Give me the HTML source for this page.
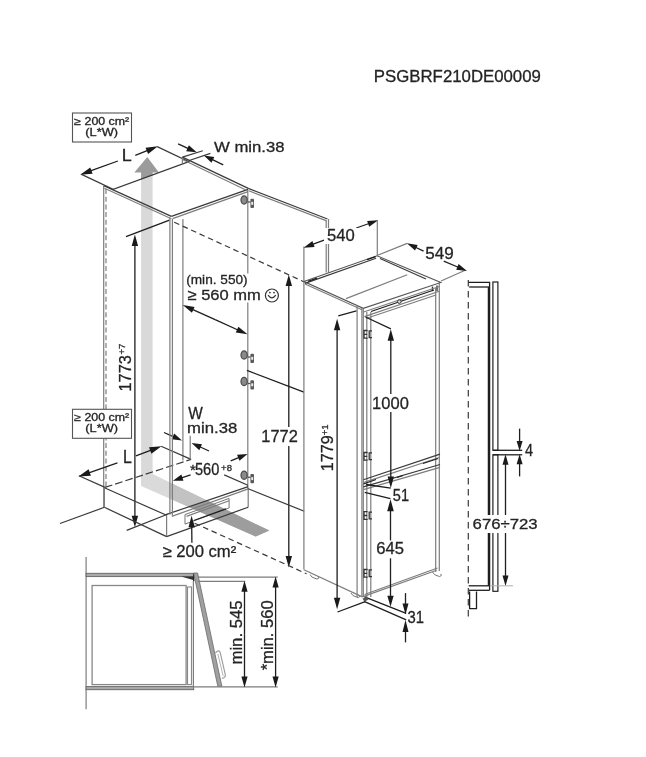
<!DOCTYPE html>
<html><head><meta charset="utf-8"><style>
html,body{margin:0;padding:0;background:#fff;width:646px;height:757px;overflow:hidden}
svg{display:block;will-change:transform}
text{font-family:"Liberation Sans",sans-serif;stroke:#2a2a2a;stroke-width:0.3px}
.k{stroke:#1e1e1e;stroke-width:1.3;fill:none}
.d{stroke:#3a3a3a;stroke-width:1.2;fill:none}
.g{stroke:#7d7d7d;stroke-width:1.2;fill:none}
.l{stroke:#b0b0b0;stroke-width:1;fill:none}
</style></head><body>
<svg width="646" height="757" viewBox="0 0 646 757">
<polygon points="141.10,172.60 152.60,172.60 152.60,474.00 141.10,484.00" fill="#d9d9d9" stroke="none"/>
<polygon points="147.30,156.90 158.90,172.60 152.60,172.60 152.60,175.20 141.10,179.40 141.10,172.60 134.30,172.60" fill="#9b9b9b" stroke="none"/>
<clipPath id="cb"><polygon points="141.1,478 152.6,474 269.3,530.6 255.7,536.4 141.1,486"/></clipPath>
<polygon points="141.10,478.00 152.60,474.00 269.30,530.60 255.70,536.40 141.10,486.00" fill="#dadada" stroke="none"/>
<g clip-path="url(#cb)"><rect x="170.5" y="440" width="120" height="120" fill="#c2c2c2"/><polygon points="165.9,514.6 248.2,486.6 300,486.6 300,560 165.9,560" fill="#9d9d9d"/></g>
<text transform="translate(373.86,82.19) scale(1.052,1)" font-size="15.97" fill="#222">PSGBRF210DE00009</text>
<rect x="72.5" y="113" width="59" height="29" fill="#fff" stroke="#555" stroke-width="1.1"/>
<text transform="translate(74.35,124.55) scale(1.199,1)" font-size="10.32" fill="#222">≥ 200 cm²</text>
<text transform="translate(85.35,135.64) scale(1.256,1)" font-size="10.19" fill="#222">(L*W)</text>
<polyline points="157.2,146.6 188.9,161.6 113.2,189.4 81.5,174.4" class="d" fill="none" stroke-width="1.1"/>
<line x1="117.9" y1="161" x2="90.48" y2="170.98" class="k" stroke-width="1.6" stroke="#1a1a1a"/>
<polygon points="80.14,174.74 90.26,167.44 92.58,173.83" fill="#1a1a1a" stroke="none"/>
<line x1="135.3" y1="155.4" x2="147.74" y2="150.43" class="k" stroke-width="1.6" stroke="#1a1a1a"/>
<polygon points="157.95,146.34 148.07,153.95 145.55,147.64" fill="#1a1a1a" stroke="none"/>
<text transform="translate(121.77,161.35) scale(1.055,1)" font-size="17.02" fill="#222">L</text>
<line x1="103.7" y1="186" x2="103.7" y2="507.5" class="g"/>
<line x1="106" y1="189" x2="106" y2="488" class="g" stroke-dasharray="5,2.7"/>
<line x1="103.7" y1="185.6" x2="171.4" y2="216.4" class="d"/>
<line x1="104.5" y1="188.2" x2="171.4" y2="218.8" class="g"/>
<line x1="182.9" y1="219" x2="182.9" y2="460.5" class="g"/>
<line x1="171.4" y1="216.4" x2="248" y2="189.4" class="d"/>
<line x1="172.6" y1="218.6" x2="248" y2="191.6" class="g"/>
<line x1="182.4" y1="157.1" x2="248.8" y2="188.6" class="d"/>
<line x1="182.4" y1="159.5" x2="248" y2="191" class="g"/>
<line x1="248.8" y1="188.6" x2="327.5" y2="219" class="d"/>
<line x1="248.8" y1="190.8" x2="326" y2="220.6" class="g"/>
<line x1="247.8" y1="190" x2="247.8" y2="489" class="g"/>
<line x1="326.2" y1="220" x2="326.2" y2="272.5" class="g"/>
<line x1="328.5" y1="219" x2="328.5" y2="272.5" class="g"/>
<ellipse cx="244.10000000000002" cy="200.0" rx="3.1" ry="4.1" fill="#8a8a8a" stroke="#4a4a4a" stroke-width="1.2"/>
<path d="M247.8,202.0 h2.8" stroke="#555" stroke-width="1.3"/>
<rect x="250.4" y="198.7" width="3.6" height="9.3" rx="1" fill="#5a5a5a"/>
<rect x="251.20000000000002" y="201.8" width="2" height="3" fill="#e8e8e8"/>
<ellipse cx="244.10000000000002" cy="355.0" rx="3.1" ry="4.1" fill="#8a8a8a" stroke="#4a4a4a" stroke-width="1.2"/>
<path d="M247.8,357.0 h2.8" stroke="#555" stroke-width="1.3"/>
<rect x="250.4" y="353.7" width="3.6" height="9.3" rx="1" fill="#5a5a5a"/>
<rect x="251.20000000000002" y="356.8" width="2" height="3" fill="#e8e8e8"/>
<ellipse cx="244.10000000000002" cy="381.5" rx="3.1" ry="4.1" fill="#8a8a8a" stroke="#4a4a4a" stroke-width="1.2"/>
<path d="M247.8,383.5 h2.8" stroke="#555" stroke-width="1.3"/>
<rect x="250.4" y="380.2" width="3.6" height="9.3" rx="1" fill="#5a5a5a"/>
<rect x="251.20000000000002" y="383.3" width="2" height="3" fill="#e8e8e8"/>
<ellipse cx="244.10000000000002" cy="475.3" rx="3.1" ry="4.1" fill="#8a8a8a" stroke="#4a4a4a" stroke-width="1.2"/>
<path d="M247.8,477.3 h2.8" stroke="#555" stroke-width="1.3"/>
<rect x="250.4" y="474.0" width="3.6" height="9.3" rx="1" fill="#5a5a5a"/>
<rect x="251.20000000000002" y="477.1" width="2" height="3" fill="#e8e8e8"/>
<line x1="182.4" y1="157.1" x2="182.4" y2="163.1" class="g"/>
<line x1="182.4" y1="157.1" x2="202.8" y2="150.7" class="d"/>
<line x1="189.2" y1="160.5" x2="210.4" y2="153.4" class="d"/>
<line x1="178.1" y1="143.9" x2="188.44" y2="148.58" class="k" stroke-width="1.5" stroke="#1a1a1a"/>
<polygon points="196.64,152.29 186.19,151.13 188.87,145.20" fill="#1a1a1a" stroke="none"/>
<line x1="223.2" y1="164.8" x2="211.98" y2="159.4" class="k" stroke-width="1.5" stroke="#1a1a1a"/>
<polygon points="203.87,155.50 214.29,156.90 211.47,162.76" fill="#1a1a1a" stroke="none"/>
<text transform="translate(214.07,151.80) scale(1.096,1)" font-size="15.24" fill="#222">W min.38</text>
<line x1="174.2" y1="222.2" x2="304.4" y2="282" class="d" stroke-dasharray="5.6,3.7"/>
<line x1="126" y1="236.6" x2="169.5" y2="220.2" class="k" stroke-width="1.0" stroke="#3a3a3a"/>
<line x1="134.9" y1="400" x2="134.9" y2="245.0" class="k" stroke-width="1.5" stroke="#1a1a1a"/>
<polygon points="134.90,234.50 138.10,246.00 131.70,246.00" fill="#1a1a1a" stroke="none"/>
<line x1="134.9" y1="400" x2="134.9" y2="516.7" class="k" stroke-width="1.5" stroke="#1a1a1a"/>
<polygon points="134.90,527.20 131.70,515.70 138.10,515.70" fill="#1a1a1a" stroke="none"/>
<line x1="215.15" y1="319.7" x2="192.34" y2="309.42" class="k" stroke-width="1.5" stroke="#1a1a1a"/>
<polygon points="182.76,305.11 194.56,306.92 191.93,312.75" fill="#1a1a1a" stroke="none"/>
<line x1="215.15" y1="319.7" x2="237.96" y2="329.98" class="k" stroke-width="1.5" stroke="#1a1a1a"/>
<polygon points="247.54,334.29 235.74,332.48 238.37,326.65" fill="#1a1a1a" stroke="none"/>
<rect x="186" y="273.5" width="76" height="29" fill="#fff"/>
<text transform="translate(186.20,284.24) scale(1.043,1)" font-size="13.08" fill="#222">(min. 550)</text>
<text transform="translate(187.51,299.50) scale(1.082,1)" font-size="15.27" fill="#222">≥ 560 mm</text>
<circle cx="271.9" cy="295.5" r="6.5" fill="none" stroke="#333" stroke-width="1.2"/>
<path d="M268,295.2 Q271.9,300.5 275.8,295.2" fill="none" stroke="#333" stroke-width="1.2"/>
<circle cx="269.9" cy="292.6" r="0.9" fill="#333"/><circle cx="274" cy="292.6" r="0.9" fill="#333"/>
<line x1="288.8" y1="420" x2="288.8" y2="285.1" class="k" stroke-width="1.5" stroke="#1a1a1a"/>
<polygon points="288.80,274.60 292.00,286.10 285.60,286.10" fill="#1a1a1a" stroke="none"/>
<line x1="288.8" y1="420" x2="288.8" y2="556.9" class="k" stroke-width="1.5" stroke="#1a1a1a"/>
<polygon points="288.80,567.40 285.60,555.90 292.00,555.90" fill="#1a1a1a" stroke="none"/>
<line x1="246.9" y1="370.4" x2="303.9" y2="392.1" class="k" stroke-width="1.5"/>
<rect x="260" y="427" width="40" height="19" fill="#fff"/>
<text transform="translate(261.32,442.35) scale(0.969,1)" font-size="16.92" fill="#222">1772</text>
<text transform="translate(130.58,391.48) rotate(-90) scale(0.948,1)" font-size="17.24" fill="#222">1773</text>
<text transform="translate(125.08,354.62) rotate(-90) scale(1.000,1)" font-size="9.50" fill="#222">+7</text>
<rect x="72.5" y="409.3" width="59" height="29" fill="#fff" stroke="#555" stroke-width="1.1"/>
<text transform="translate(74.15,421.04) scale(1.172,1)" font-size="10.60" fill="#222">≥ 200 cm²</text>
<text transform="translate(85.35,431.52) scale(1.193,1)" font-size="10.72" fill="#222">(L*W)</text>
<polyline points="161.1,446.2 191.1,459.4" class="d" fill="none" stroke-width="1.1"/>
<polyline points="105,487.4 78.9,475.8" class="d" fill="none" stroke-width="1.1"/>
<line x1="105" y1="487.4" x2="191.1" y2="459.4" class="d" stroke-width="1.1" stroke-dasharray="7.7,3"/>
<line x1="117.4" y1="462.9" x2="88.82" y2="472.9" class="k" stroke-width="1.6" stroke="#1a1a1a"/>
<polygon points="78.44,476.53 88.64,469.36 90.89,475.78" fill="#1a1a1a" stroke="none"/>
<line x1="135.9" y1="455.9" x2="151.15" y2="450.2" class="k" stroke-width="1.6" stroke="#1a1a1a"/>
<polygon points="161.46,446.36 151.40,453.74 149.02,447.37" fill="#1a1a1a" stroke="none"/>
<text transform="translate(122.94,462.65) scale(0.868,1)" font-size="18.33" fill="#222">L</text>
<line x1="190.2" y1="435.8" x2="190.2" y2="459.6" class="g"/>
<text transform="translate(188.17,419.35) scale(0.971,1)" font-size="15.85" fill="#222">W</text>
<text transform="translate(187.12,432.81) scale(1.159,1)" font-size="14.42" fill="#222">min.38</text>
<line x1="164" y1="432.5" x2="173.79" y2="436.78" class="k" stroke-width="1.5" stroke="#1a1a1a"/>
<polygon points="182.04,440.38 171.58,439.36 174.18,433.40" fill="#1a1a1a" stroke="none"/>
<line x1="209" y1="451" x2="199.75" y2="446.76" class="k" stroke-width="1.5" stroke="#1a1a1a"/>
<polygon points="191.56,443.01 202.01,444.22 199.30,450.13" fill="#1a1a1a" stroke="none"/>
<text transform="translate(189.89,474.56) scale(1.000,1)" font-size="15.00" fill="#222">*</text>
<text transform="translate(194.97,474.59) scale(0.930,1)" font-size="15.69" fill="#222">560</text>
<text transform="translate(221.08,471.18) scale(1.000,1)" font-size="9.50" fill="#222">+8</text>
<line x1="230.7" y1="460.8" x2="239.2" y2="457.39" class="k" stroke-width="1.5" stroke="#1a1a1a"/>
<polygon points="247.55,454.04 239.48,460.78 237.06,454.75" fill="#1a1a1a" stroke="none"/>
<line x1="190.6" y1="474.9" x2="181.47" y2="477.96" class="k" stroke-width="1.5" stroke="#1a1a1a"/>
<polygon points="172.94,480.82 181.38,474.56 183.45,480.72" fill="#1a1a1a" stroke="none"/>
<line x1="224.2" y1="474.9" x2="247.9" y2="485.3" class="d"/>
<line x1="104.4" y1="487.8" x2="166.6" y2="515.3" class="d"/>
<line x1="60" y1="523.5" x2="104.4" y2="507.3" class="d"/>
<line x1="104.4" y1="507.3" x2="166.6" y2="536.6" class="d"/>
<line x1="104.4" y1="487.8" x2="104.4" y2="507.3" class="g"/>
<line x1="165.9" y1="514.6" x2="248.2" y2="486.6" class="d"/>
<line x1="171.8" y1="516.4" x2="248.2" y2="488.9" class="g"/>
<line x1="166.6" y1="515.3" x2="166.6" y2="536.6" class="g"/>
<line x1="248.2" y1="488.1" x2="248.2" y2="507.2" class="g"/>
<line x1="166.6" y1="536.6" x2="248.2" y2="507.2" class="d"/>
<line x1="169.9" y1="217.5" x2="169.9" y2="514.8" class="g"/>
<line x1="172.4" y1="219" x2="172.4" y2="515.5" class="g"/>
<line x1="248.2" y1="488.8" x2="304.2" y2="511.2" class="d"/>
<line x1="126.7" y1="530.4" x2="167.5" y2="514.2" class="d"/>
<polygon points="185.00,514.60 229.10,498.40 229.10,507.90 185.00,524.10" fill="none" stroke="#777" stroke-width="1"/>
<line x1="186.5" y1="516.4" x2="229.1" y2="500.8" class="g" stroke-width="0.9"/>
<line x1="193.8" y1="520.5" x2="226" y2="508.8" class="k" stroke-width="2.2" stroke="#555"/>
<line x1="194.6" y1="523.2" x2="306.6" y2="573.8" class="d" stroke-dasharray="5.6,3.7"/>
<line x1="191.9" y1="542.7" x2="191.71" y2="526.3" class="k" stroke-width="1.5" stroke="#1a1a1a"/>
<polygon points="191.59,515.80 194.92,527.26 188.52,527.34" fill="#1a1a1a" stroke="none"/>
<text transform="translate(162.41,557.18) scale(1.006,1)" font-size="16.54" fill="#222">≥ 200 cm²</text>
<line x1="303.9" y1="246.5" x2="303.9" y2="569.5" class="g"/>
<polygon points="303.90,281.50 377.00,255.80 440.80,282.40 363.30,308.30" fill="none" stroke="#555" stroke-width="1.1"/>
<line x1="305" y1="284" x2="362" y2="309.8" class="g" stroke-width="0.9"/>
<line x1="305" y1="283.4" x2="376" y2="258.3" class="d" stroke-width="0.9"/>
<line x1="377" y1="255.5" x2="407.2" y2="243.4" class="g"/>
<line x1="441" y1="281" x2="465.2" y2="270.2" class="g"/>
<line x1="423.6" y1="251.1" x2="415.46" y2="247.26" class="k" stroke-width="1.5" stroke="#1a1a1a"/>
<polygon points="406.87,243.20 417.69,244.88 415.04,250.49" fill="#1a1a1a" stroke="none"/>
<line x1="443.7" y1="261.1" x2="458.29" y2="267.27" class="k" stroke-width="1.5" stroke="#1a1a1a"/>
<polygon points="467.04,270.97 456.17,269.74 458.58,264.03" fill="#1a1a1a" stroke="none"/>
<text transform="translate(425.17,259.18) scale(1.023,1)" font-size="16.68" fill="#222">549</text>
<line x1="377.3" y1="255.8" x2="377.3" y2="220.6" class="g"/>
<line x1="324.8" y1="239.8" x2="312.55" y2="244.34" class="k" stroke-width="1.5" stroke="#1a1a1a"/>
<polygon points="303.64,247.64 312.41,241.09 314.57,246.90" fill="#1a1a1a" stroke="none"/>
<line x1="356.3" y1="228" x2="369.1" y2="223.51" class="k" stroke-width="1.5" stroke="#1a1a1a"/>
<polygon points="378.06,220.37 369.18,226.77 367.13,220.92" fill="#1a1a1a" stroke="none"/>
<rect x="324" y="228" width="34" height="16" fill="#fff"/>
<text transform="translate(327.08,241.19) scale(1.025,1)" font-size="16.25" fill="#222">540</text>
<line x1="346" y1="298.6" x2="407.2" y2="274.8" class="g"/>
<line x1="380" y1="258.5" x2="426" y2="279" class="d" stroke-width="1.8"/>
<rect x="431.8" y="286.6" width="1.4" height="4.6" fill="#333"/><rect x="436.3" y="285.5" width="1.4" height="5.6" fill="#333"/>
<line x1="308" y1="281.3" x2="317" y2="278.1" class="k" stroke-width="1.8" stroke="#333"/>
<line x1="367" y1="259.6" x2="375.7" y2="256.7" class="k" stroke-width="1.8" stroke="#333"/>
<line x1="357.1" y1="305" x2="357.1" y2="597" class="g" stroke="#999"/>
<line x1="361.9" y1="308" x2="361.9" y2="597" class="g" stroke="#666"/>
<line x1="363.3" y1="309" x2="363.3" y2="597" class="g" stroke-width="0.9"/>
<line x1="366.8" y1="312" x2="366.8" y2="597" class="g"/>
<line x1="370.8" y1="312" x2="370.8" y2="597" class="g"/>
<line x1="435.7" y1="288" x2="435.7" y2="572" class="g"/>
<line x1="439.3" y1="283" x2="439.3" y2="571" class="g"/>
<line x1="362.9" y1="312.2" x2="439.3" y2="286.5" class="g"/>
<line x1="364.4" y1="316.6" x2="439.3" y2="291.2" class="g"/>
<line x1="366" y1="318.5" x2="436" y2="295" class="g" stroke-width="0.9"/>
<line x1="371" y1="311.5" x2="434" y2="290" class="k" stroke-width="1.3"/>
<circle cx="399.3" cy="301.6" r="1.8" fill="#ddd" stroke="#333" stroke-width="1"/>
<path d="M367.6,330.5 H364 V338.1 H367.6 M364,334.3 H367.2 M372,330.9 H369.2 V337.7 H372" fill="none" stroke="#333" stroke-width="1.3"/>
<path d="M367.6,452.5 H364 V460.1 H367.6 M364,456.3 H367.2 M372,452.9 H369.2 V459.7 H372" fill="none" stroke="#333" stroke-width="1.3"/>
<path d="M367.6,511.7 H364 V519.3 H367.6 M364,515.5 H367.2 M372,512.1 H369.2 V518.9 H372" fill="none" stroke="#333" stroke-width="1.3"/>
<path d="M367.6,569.5 H364 V577.1 H367.6 M364,573.3 H367.2 M372,569.9 H369.2 V576.7 H372" fill="none" stroke="#333" stroke-width="1.3"/>
<line x1="363.4" y1="479.8" x2="440" y2="454.1" class="d" stroke-width="1"/>
<line x1="363.4" y1="482.6" x2="440" y2="457.3" class="g" stroke-width="1"/>
<line x1="363.4" y1="486.8" x2="440" y2="464.5" class="d" stroke-width="1"/>
<line x1="363.4" y1="489.6" x2="440" y2="467.3" class="g" stroke-width="1"/>
<line x1="363.5" y1="484" x2="376" y2="479.5" class="k" stroke-width="2.2" stroke="#333"/>
<line x1="423" y1="463.5" x2="438" y2="458.5" class="k" stroke-width="2.2" stroke="#444"/>
<line x1="397" y1="477.5" x2="403" y2="475.5" class="k" stroke-width="1.5" stroke="#555"/>
<line x1="366" y1="484.5" x2="390.8" y2="488.2" class="k" stroke-width="0.9" stroke="#444"/>
<line x1="303.9" y1="569.8" x2="362.3" y2="596.9" class="g"/>
<line x1="362.3" y1="596.9" x2="436.6" y2="570.2" class="g"/>
<line x1="364.5" y1="594.5" x2="437.5" y2="568" class="g" stroke-width="1"/>
<path d="M310,574.5 l2,2.6 l5,2 l2,-1.2 l-1,-1.5" fill="none" stroke="#777" stroke-width="1"/>
<path d="M351,593 l2,2.6 l5,2 l2,-1.2 l-1,-1.5" fill="none" stroke="#777" stroke-width="1"/>
<path d="M432.5,572 l2,2.6 l5,2 l2,-1.2 l-1,-1.5" fill="none" stroke="#777" stroke-width="1"/>
<line x1="338.3" y1="315.8" x2="356.4" y2="310.9" class="k" stroke-width="1.0" stroke="#333"/>
<line x1="337.1" y1="460" x2="337.1" y2="329.3" class="k" stroke-width="1.5" stroke="#1a1a1a"/>
<polygon points="337.10,318.80 340.30,330.30 333.90,330.30" fill="#1a1a1a" stroke="none"/>
<line x1="337.1" y1="460" x2="337.1" y2="598.7" class="k" stroke-width="1.5" stroke="#1a1a1a"/>
<polygon points="337.10,609.20 333.90,597.70 340.30,597.70" fill="#1a1a1a" stroke="none"/>
<line x1="337.5" y1="612" x2="365.2" y2="601.6" class="k" stroke-width="1.0" stroke="#333"/>
<text transform="translate(332.68,471.26) rotate(-90) scale(0.961,1)" font-size="16.82" fill="#222">1779</text>
<text transform="translate(327.88,435.23) rotate(-90) scale(1.000,1)" font-size="9.50" fill="#222">+1</text>
<line x1="365.5" y1="317" x2="390.9" y2="328.9" class="k" stroke-width="1.0" stroke="#333"/>
<line x1="390.8" y1="420" x2="390.8" y2="339.7" class="k" stroke-width="1.5" stroke="#1a1a1a"/>
<polygon points="390.80,329.20 394.00,340.70 387.60,340.70" fill="#1a1a1a" stroke="none"/>
<line x1="390.8" y1="420" x2="390.8" y2="477.5" class="k" stroke-width="1.5" stroke="#1a1a1a"/>
<polygon points="390.80,488.00 387.60,476.50 394.00,476.50" fill="#1a1a1a" stroke="none"/>
<rect x="372" y="394" width="38" height="18" fill="#fff"/>
<text transform="translate(372.11,408.98) scale(0.981,1)" font-size="16.82" fill="#222">1000</text>
<line x1="364.7" y1="492.4" x2="390.5" y2="498.6" class="k" stroke-width="1.0" stroke="#333"/>
<line x1="390.5" y1="560" x2="390.5" y2="510.2" class="k" stroke-width="1.5" stroke="#1a1a1a"/>
<polygon points="390.50,499.20 393.80,511.20 387.20,511.20" fill="#1a1a1a" stroke="none"/>
<text transform="translate(392.87,500.89) scale(0.899,1)" font-size="16.20" fill="#222">51</text>
<line x1="390.5" y1="560" x2="390.5" y2="596.8" class="k" stroke-width="1.5" stroke="#1a1a1a"/>
<polygon points="390.50,606.80 387.35,595.80 393.65,595.80" fill="#1a1a1a" stroke="none"/>
<rect x="375" y="540.4" width="31" height="17.899999999999977" fill="#fff"/>
<text transform="translate(376.32,553.89) scale(1.031,1)" font-size="16.11" fill="#222">645</text>
<line x1="364.5" y1="596.9" x2="406.2" y2="613.3" class="k" stroke-width="1.0" stroke="#333"/>
<line x1="364" y1="601.3" x2="406.2" y2="619.8" class="k" stroke-width="1.0" stroke="#333"/>
<polygon points="362.50,598.50 366.50,597.00 368.50,599.50 364.50,601.80" fill="#555" stroke="none"/>
<line x1="405.5" y1="593.1" x2="405.5" y2="604.6" class="k" stroke-width="1.5" stroke="#1a1a1a"/>
<polygon points="405.50,614.40 402.50,603.60 408.50,603.60" fill="#1a1a1a" stroke="none"/>
<line x1="405.5" y1="642.4" x2="405.5" y2="631.0" class="k" stroke-width="1.5" stroke="#1a1a1a"/>
<polygon points="405.50,620.10 408.50,632.00 402.50,632.00" fill="#1a1a1a" stroke="none"/>
<text transform="translate(407.39,623.38) scale(0.889,1)" font-size="16.68" fill="#222">31</text>
<line x1="468.3" y1="280" x2="468.3" y2="620" class="d" stroke-dasharray="6.5,4.5"/>
<polyline points="468.4,282.4 489.6,282.4 489.6,590.3" class="k" fill="none" stroke-width="1.2"/>
<line x1="488.4" y1="287" x2="488.4" y2="585.7" class="k" stroke-width="0.9"/>
<line x1="469.2" y1="287" x2="489" y2="287" class="k" stroke-width="1.2"/>
<rect x="492.9" y="282" width="5" height="168.3" fill="none" stroke="#222" stroke-width="1.2"/>
<rect x="492.9" y="454.8" width="5" height="136.5" fill="none" stroke="#222" stroke-width="1.2"/>
<line x1="492.9" y1="450.3" x2="522.2" y2="450.3" class="k" stroke-width="1"/>
<line x1="492.9" y1="454.8" x2="522.2" y2="454.8" class="k" stroke-width="1"/>
<line x1="519.6" y1="428.6" x2="519.6" y2="441.9" class="k" stroke-width="1.5" stroke="#1a1a1a"/>
<polygon points="519.60,450.90 516.60,440.90 522.60,440.90" fill="#1a1a1a" stroke="none"/>
<line x1="519.6" y1="476.4" x2="519.6" y2="463.3" class="k" stroke-width="1.5" stroke="#1a1a1a"/>
<polygon points="519.60,454.30 522.60,464.30 516.60,464.30" fill="#1a1a1a" stroke="none"/>
<text transform="translate(524.92,456.35) scale(0.912,1)" font-size="15.85" fill="#222">4</text>
<line x1="505.5" y1="516" x2="505.5" y2="463.8" class="k" stroke-width="1.5" stroke="#1a1a1a"/>
<polygon points="505.50,454.30 508.50,464.80 502.50,464.80" fill="#1a1a1a" stroke="none"/>
<line x1="505.5" y1="532" x2="505.5" y2="576.6" class="k" stroke-width="1.5" stroke="#1a1a1a"/>
<polygon points="505.50,586.10 502.50,575.60 508.50,575.60" fill="#1a1a1a" stroke="none"/>
<line x1="489.6" y1="585.8" x2="513" y2="585.8" class="l" stroke-width="1.1" stroke="#999"/>
<line x1="468.7" y1="585.8" x2="489.6" y2="585.8" class="k" stroke-width="1.2"/>
<line x1="469" y1="590.3" x2="489.6" y2="590.3" class="k" stroke-width="1.2"/>
<polyline points="469.6,591.4 469.6,608.6 476.5,608.6 476.5,591.4" class="k" fill="none" stroke-width="1.8"/>
<rect x="471" y="515" width="68" height="18" fill="#fff"/>
<text transform="translate(472.61,529.40) scale(1.097,1)" font-size="15.27" fill="#222">676÷723</text>
<line x1="86.1" y1="557" x2="86.1" y2="709.3" class="g"/>
<rect x="86.1" y="573.3" width="107.3" height="3.3" fill="#aaa" stroke="#666" stroke-width="0.9"/>
<polygon points="181.00,576.60 193.20,576.60 193.20,580.00" fill="#333" stroke="none"/>
<rect x="86.1" y="686.6" width="107.6" height="3.1" fill="#aaa" stroke="#666" stroke-width="0.9"/>
<rect x="92.1" y="585.5" width="94" height="99.1" fill="none" stroke="#888" stroke-width="1.3"/>
<rect x="187.5" y="587" width="4" height="97.6" fill="none" stroke="#888" stroke-width="1.1"/>
<line x1="193.7" y1="573" x2="193.7" y2="581.2" class="k" stroke-width="1.3"/>
<line x1="193.4" y1="581" x2="193.4" y2="686" class="g"/>
<polygon points="193.60,573.00 197.60,573.00 221.90,686.30 217.80,686.30" fill="#a0a0a0" stroke="#6a6a6a" stroke-width="0.8"/>
<path d="M215.3,652.8 L217.8,651 Q219.6,650.6 220.2,652.5 L225.3,674.6 Q225.7,677.2 223.5,677.9 L221.8,678.4" fill="none" stroke="#999" stroke-width="1.1"/>
<path d="M217.9,654 L223.2,676.2" fill="none" stroke="#aaa" stroke-width="0.9"/>
<line x1="197.9" y1="577.1" x2="277.7" y2="577.1" class="g" stroke-width="1"/>
<line x1="197.9" y1="581.4" x2="245.2" y2="581.4" class="g" stroke-width="1"/>
<line x1="194.1" y1="686.9" x2="277.7" y2="686.9" class="g" stroke-width="1"/>
<line x1="244.5" y1="634.15" x2="244.5" y2="590.7" class="k" stroke-width="1.5" stroke="#1a1a1a"/>
<polygon points="244.50,580.70 247.60,591.70 241.40,591.70" fill="#1a1a1a" stroke="none"/>
<line x1="244.5" y1="634.15" x2="244.5" y2="677.6" class="k" stroke-width="1.5" stroke="#1a1a1a"/>
<polygon points="244.50,687.60 241.40,676.60 247.60,676.60" fill="#1a1a1a" stroke="none"/>
<line x1="275.6" y1="632.0" x2="275.6" y2="586.4" class="k" stroke-width="1.5" stroke="#1a1a1a"/>
<polygon points="275.60,576.40 278.70,587.40 272.50,587.40" fill="#1a1a1a" stroke="none"/>
<line x1="275.6" y1="632.0" x2="275.6" y2="677.6" class="k" stroke-width="1.5" stroke="#1a1a1a"/>
<polygon points="275.60,687.60 272.50,676.60 278.70,676.60" fill="#1a1a1a" stroke="none"/>
<text transform="translate(242.38,664.58) rotate(-90) scale(0.986,1)" font-size="17.01" fill="#222">min. 545</text>
<text transform="translate(272.79,670.34) rotate(-90) scale(1.016,1)" font-size="16.33" fill="#222">*min. 560</text>
</svg>
</body></html>
